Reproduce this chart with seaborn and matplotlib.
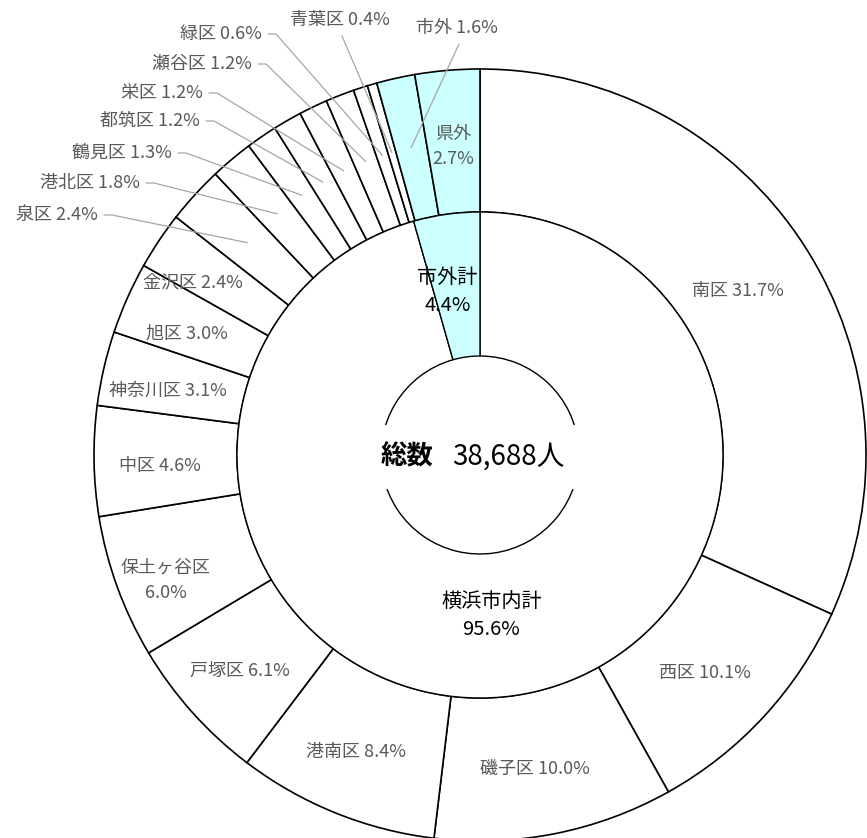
import numpy as np
import matplotlib.pyplot as plt
import seaborn as sns

# outer ring: wards, clockwise from 12 o'clock (%)
wards = ['南区', '西区', '磯子区', '港南区', '戸塚区', '保土ヶ谷区', '中区', '神奈川区',
         '旭区', '金沢区', '泉区', '港北区', '鶴見区', '都筑区', '栄区', '瀬谷区',
         '緑区', '青葉区', '市外', '県外']
ward_pct = [31.7, 10.1, 10.0, 8.4, 6.1, 6.0, 4.6, 3.1, 3.0, 2.4,
            2.4, 1.8, 1.3, 1.2, 1.2, 1.2, 0.6, 0.4, 1.6, 2.7]

# inner ring: totals (%)
groups = ['横浜市内計', '市外計']
group_pct = [95.6, 4.4]

total_title = '総数'
total_value = '38,688人'

outside = {'市外', '県外'}
CYAN = '#CCFFFF'
LABEL_GREY = '#595959'
LEADER = '#A6A6A6'

W, H = 867, 838
cx, cy = 480, H - 455


def py(y):
    # pixel row (top-down) -> data y
    return H - y


sns.set_theme(style='white')
plt.rcParams['font.family'] = ['Noto Sans CJK JP', 'DejaVu Sans']

fig = plt.figure(figsize=(W / 100, H / 100), dpi=100)
ax = fig.add_axes([0, 0, 1, 1])

outer_cols = [CYAN if w in outside else 'white' for w in wards]
outer, _ = ax.pie(ward_pct, radius=386, center=(cx, cy), startangle=90,
                  counterclock=False, colors=outer_cols,
                  wedgeprops=dict(width=143, edgecolor='black', linewidth=1.2))
inner_cols = ['white', CYAN]
inner, _ = ax.pie(group_pct, radius=243, center=(cx, cy), startangle=90,
                  counterclock=False, colors=inner_cols,
                  wedgeprops=dict(width=144, edgecolor='black', linewidth=1.0))


def mid_point(w, r):
    a = np.deg2rad((w.theta1 + w.theta2) / 2)
    return cx + r * np.cos(a), cy + r * np.sin(a)


lab_fs = 13
# labels drawn inside their wedge
nudge = {'保土ヶ谷区': (-13, -12), '金沢区': (-20, 4), '県外': (6, 2)}
two_line = {'保土ヶ谷区', '県外'}
# labels placed outside with leader lines: (right edge x, row y)
leader_pos = {'泉区': (98, 215), '港北区': (140, 183), '鶴見区': (172, 153),
              '都筑区': (200, 121), '栄区': (203, 93), '瀬谷区': (252, 64),
              '緑区': (262, 34)}
top_pos = {'青葉区': (340, 20), '市外': (457, 28)}

for w, name, pct in zip(outer, wards, ward_pct):
    sep = '\n' if name in two_line else ' '
    txt = f'{name}{sep}{pct:.1f}%'
    if name in leader_pos:
        tx, ty = leader_pos[name]
        ax.text(tx, py(ty), txt, ha='right', va='center', fontsize=lab_fs,
                color=LABEL_GREY)
        axp, ayp = mid_point(w, 315)
        ax.plot([tx + 6, tx + 14, axp], [py(ty), py(ty), ayp], color=LEADER,
                lw=0.9, zorder=5)
    elif name in top_pos:
        tx, ty = top_pos[name]
        ax.text(tx, py(ty), txt, ha='center', va='center', fontsize=lab_fs,
                color=LABEL_GREY)
        axp, ayp = mid_point(w, 315)
        ax.plot([tx + 2, axp], [py(ty + 16), ayp], color=LEADER, lw=0.9,
                zorder=5)
    else:
        x, y = mid_point(w, 314)
        dx, dy = nudge.get(name, (0, 0))
        ax.text(x - 6 + dx, y - 6 + dy, txt, ha='center', va='center',
                fontsize=lab_fs, color=LABEL_GREY, linespacing=1.5)

inner_nudge = {'横浜市内計': (-12, 8), '市外計': (-9, -5)}
for w, name, pct in zip(inner, groups, group_pct):
    x, y = mid_point(w, 170)
    dx, dy = inner_nudge[name]
    ax.text(x + dx, y + dy, f'{name}\n{pct:.1f}%', ha='center', va='center',
            fontsize=14.5, color='black', linespacing=1.45)

# centre total; an invisible text with a white box breaks the hole outline
ax.text(478, py(457), f'{total_title}  {total_value}', ha='center', va='center',
        fontsize=20, color='none', zorder=6,
        bbox=dict(boxstyle='square,pad=0.6', fc='white', ec='none'))
ax.text(433, py(457), total_title, ha='right', va='center', fontsize=19,
        fontweight='bold', color='black', zorder=7)
ax.text(452, py(457), total_value, ha='left', va='center', fontsize=20,
        color='black', zorder=7)

ax.set_xlim(0, W)
ax.set_ylim(0, H)
ax.set_aspect('equal')
ax.axis('off')

fig.savefig('out.png', dpi=100, facecolor='white')
